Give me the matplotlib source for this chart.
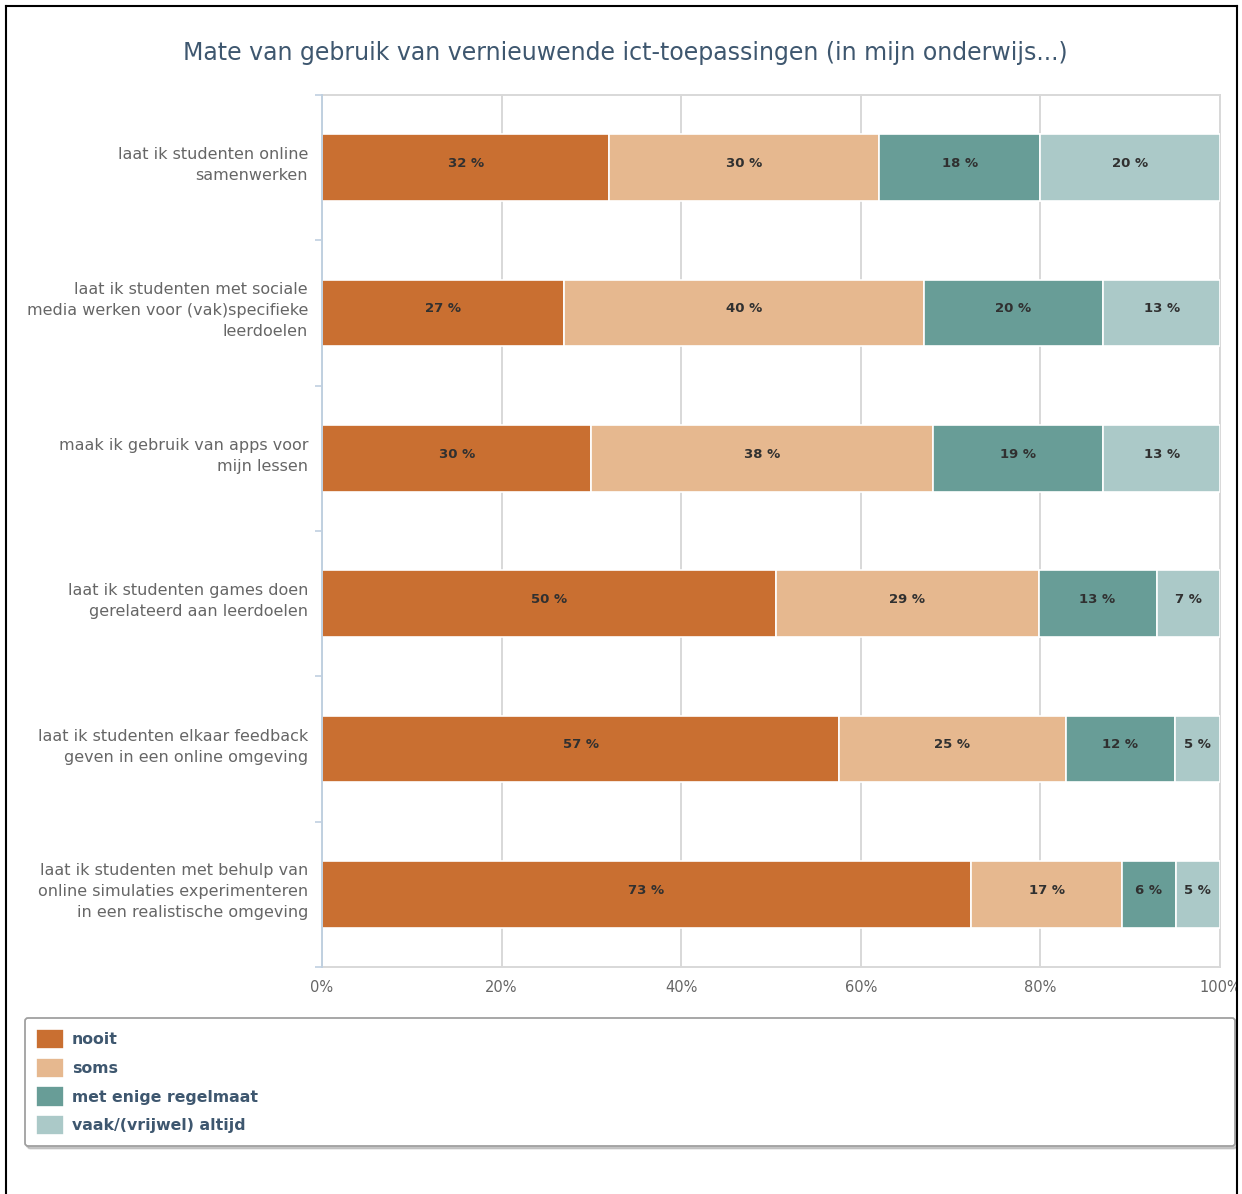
import numpy as np
import matplotlib
matplotlib.use("Agg")
import matplotlib.pyplot as plt
import matplotlib.transforms as mtransforms
from matplotlib.lines import Line2D
from matplotlib.patches import Rectangle

# data
categories = [
    "laat ik studenten online\nsamenwerken",
    "laat ik studenten met sociale\nmedia werken voor (vak)specifieke\nleerdoelen",
    "maak ik gebruik van apps voor\nmijn lessen",
    "laat ik studenten games doen\ngerelateerd aan leerdoelen",
    "laat ik studenten elkaar feedback\ngeven in een online omgeving",
    "laat ik studenten met behulp van\nonline simulaties experimenteren\nin een realistische omgeving",
]
series_names = ["nooit", "soms", "met enige regelmaat", "vaak/(vrijwel) altijd"]
nooit = [32, 27, 30, 50, 57, 73]
soms = [30, 40, 38, 29, 25, 17]
regelmaat = [18, 20, 19, 13, 12, 6]
vaak = [20, 13, 13, 7, 5, 5]
tick_values = [0, 20, 40, 60, 80, 100]
tick_labels = ["0%", "20%", "40%", "60%", "80%", "100%"]

colors = ["#C96F31", "#E6B88F", "#689D97", "#ABC9C8"]
title_col = "#3E576F"
grid_col = "#D8D8D8"
axis_col = "#C0D0E0"

W, H = 1242, 1194
fig = plt.figure(figsize=(W / 100, H / 100), dpi=100)
ax = fig.add_axes([322 / W, 1 - 967 / H, (1220 - 322) / W, (967 - 95) / H])

raw = np.array([nooit, soms, regelmaat, vaak], dtype=float)
totals = raw.sum(axis=0)
pct = raw / totals * 100  # percent stacking
y = np.arange(len(categories))

up4 = mtransforms.ScaledTranslation(0, 3 / 72, fig.dpi_scale_trans)
left = np.zeros(len(categories))
handles = []
for k in range(len(series_names)):
    bars = ax.barh(y, pct[k], left=left, height=0.46, color=colors[k],
                   edgecolor="white", linewidth=1.2, zorder=3, label=series_names[k])
    handles.append(bars)
    for i in range(len(categories)):
        ax.text(left[i] + pct[k][i] / 2, y[i], f"{raw[k][i]:.0f} %",
                ha="center", va="center", fontsize=9.5, color="#303030",
                fontweight="bold", zorder=4, transform=ax.transData + up4)
    left += pct[k]

ax.set_xlim(0, 100)
ax.set_ylim(len(categories) - 0.5, -0.5)

ax.set_xticks(tick_values)
ax.set_xticklabels(tick_labels)
ax.tick_params(axis="x", length=0, pad=9, labelsize=10.5, labelcolor="#666666")
ax.set_yticks(y)
ax.set_yticklabels(categories, ha="right", multialignment="right")
ax.tick_params(axis="y", length=0, pad=10, labelsize=11.5, labelcolor="#666666")
ax.set_yticks(np.arange(-0.5, len(categories)), minor=True)
ax.tick_params(axis="y", which="minor", length=5, width=1.2, color=axis_col)
up8 = mtransforms.ScaledTranslation(0, 5 / 72, fig.dpi_scale_trans)
for lbl in ax.get_yticklabels():
    lbl.set_linespacing(1.5)
    lbl.set_transform(lbl.get_transform() + up8)

ax.grid(axis="x", color=grid_col, linewidth=1.4, zorder=0)
for side in ["top", "bottom", "right"]:
    ax.spines[side].set_color(grid_col)
    ax.spines[side].set_linewidth(1.4)
ax.spines["left"].set_color(axis_col)
ax.spines["left"].set_linewidth(1.4)
ax.spines["left"].set_zorder(5)

fig.text(625 / W, 1 - 53 / H,
         "Mate van gebruik van vernieuwende ict-toepassingen (in mijn onderwijs...)",
         ha="center", va="center", fontsize=17, color=title_col)

leg = fig.legend(handles=handles, labels=series_names, loc="upper left",
                 bbox_to_anchor=(25 / W, 1 - 1018 / H, (1235 - 25) / W, 0.0001),
                 mode="expand", ncol=1, fontsize=11.3, frameon=True, fancybox=True,
                 shadow={"ox": 1.5, "oy": -1.5, "alpha": 0.25},
                 handlelength=1.8, handleheight=1.6, handletextpad=0.5,
                 labelspacing=0.55, borderpad=0.7, borderaxespad=0)
leg.get_frame().set_edgecolor("#A0A0A0")
leg.get_frame().set_linewidth(1.3)
leg.get_frame().set_facecolor("white")
for t in leg.get_texts():
    t.set_color(title_col)
    t.set_fontweight("bold")

# page frame of the screenshot
fig.add_artist(Rectangle((1236 / W, 0), 6 / W, 1, transform=fig.transFigure,
                         facecolor="white", edgecolor="none", zorder=20))
fig.add_artist(Line2D([6 / W, 6 / W], [0, 1 - 6 / H], color="black", lw=1.5, zorder=21))
fig.add_artist(Line2D([1237 / W, 1237 / W], [0, 1 - 6 / H], color="black", lw=1.5, zorder=21))
fig.add_artist(Line2D([6 / W, 1237 / W], [1 - 6 / H, 1 - 6 / H], color="black", lw=1.5, zorder=21))

fig.savefig("out.png", dpi=100)
